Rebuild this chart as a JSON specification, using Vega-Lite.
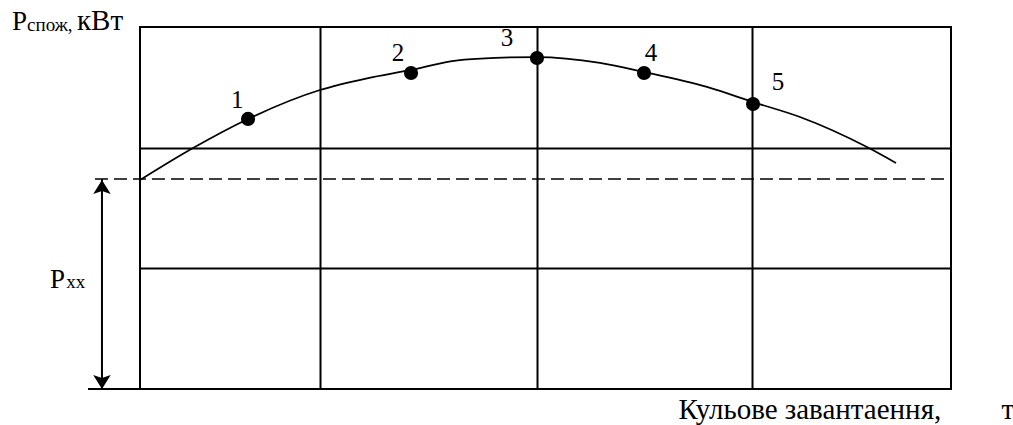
{
  "$schema": "https://vega.github.io/schema/vega-lite/v6.json",
  "width": 811,
  "height": 362,
  "autosize": "none",
  "padding": {"left": 140, "top": 27, "right": 62, "bottom": 36},
  "background": "white",
  "config": {"view": {"stroke": "black", "strokeWidth": 2}, "text": {"font": "Liberation Serif, Times New Roman, serif"}},
  "datasets": {
    "curve": [
      {"x": 0, "y": 1.732},
      {"x": 6.54, "y": 1.997},
      {"x": 13.32, "y": 2.238},
      {"x": 22.19, "y": 2.478},
      {"x": 28.0, "y": 2.575},
      {"x": 33.42, "y": 2.644},
      {"x": 38.5, "y": 2.718},
      {"x": 42.0, "y": 2.738},
      {"x": 48.95, "y": 2.751},
      {"x": 56.72, "y": 2.702},
      {"x": 62.15, "y": 2.627},
      {"x": 69.91, "y": 2.503},
      {"x": 75.59, "y": 2.378},
      {"x": 81.38, "y": 2.254},
      {"x": 89.64, "y": 2.005},
      {"x": 93.22, "y": 1.873}
    ],
    "dots": [
      {"x": 13.32, "y": 2.238, "n": "1"},
      {"x": 33.42, "y": 2.619, "n": "2"},
      {"x": 48.95, "y": 2.743, "n": "3"},
      {"x": 62.15, "y": 2.619, "n": "4"},
      {"x": 75.59, "y": 2.362, "n": "5"}
    ],
    "numlabels": [
      {"x": 12.0, "y": 2.395, "text": "1"},
      {"x": 31.81, "y": 2.784, "text": "2"},
      {"x": 45.25, "y": 2.909, "text": "3"},
      {"x": 63.0, "y": 2.784, "text": "4"},
      {"x": 78.67, "y": 2.544, "text": "5"}
    ],
    "dashed": [{"x": -5.55, "x2": 100, "y": 1.74}],
    "arrowline": [{"x": -4.69, "y": 0, "y2": 1.74}],
    "baseext": [{"x": -6.41, "x2": 0, "y": 0}],
    "arrowup": [{"x": -4.69, "y": 1.659}],
    "arrowdown": [{"x": -4.69, "y": 0.0725}],
    "bigtext": [
      {"x": -15.78, "y": 2.975, "text": "P"},
      {"x": -11.1, "y": 0.837, "text": "P"}
    ],
    "unit": [
      {"x": -7.77, "y": 2.975, "text": "кВт"}
    ],
    "subtext": [
      {"x": -13.93, "y": 2.967, "text": "спож,"},
      {"x": -9.1, "y": 0.837, "text": "xx"}
    ],
    "xtitle": [
      {"x": 82.6, "y": -0.174, "text": "Кульове завантаення,"},
      {"x": 107.0, "y": -0.174, "text": "т"}
    ]
  },
  "encoding": {
    "x": {
      "field": "x", "type": "quantitative",
      "scale": {"domain": [0, 100], "nice": false, "zero": false},
      "axis": {"values": [22.19, 48.95, 75.46], "grid": true, "gridColor": "black", "gridWidth": 2, "gridOpacity": 1, "labels": false, "ticks": false, "domain": false, "title": null}
    },
    "y": {
      "field": "y", "type": "quantitative",
      "scale": {"domain": [0, 3], "nice": false, "zero": false},
      "axis": {"values": [1, 2], "grid": true, "gridColor": "black", "gridWidth": 2, "gridOpacity": 1, "labels": false, "ticks": false, "domain": false, "title": null}
    }
  },
  "layer": [
    {
      "data": {"name": "dashed"},
      "mark": {"type": "rule", "color": "black", "strokeWidth": 1.5, "strokeDash": [13, 6]},
      "encoding": {"x2": {"field": "x2"}}
    },
    {
      "data": {"name": "arrowline"},
      "mark": {"type": "rule", "color": "black", "strokeWidth": 2},
      "encoding": {"y2": {"field": "y2"}}
    },
    {
      "data": {"name": "baseext"},
      "mark": {"type": "rule", "color": "black", "strokeWidth": 2},
      "encoding": {"x2": {"field": "x2"}}
    },
    {
      "data": {"name": "arrowup"},
      "mark": {"type": "point", "shape": "M0,-1L1,0.6L0,0.25L-1,0.6Z", "filled": true, "color": "black", "opacity": 1, "size": 306, "strokeWidth": 0}
    },
    {
      "data": {"name": "arrowdown"},
      "mark": {"type": "point", "shape": "M0,1L1,-0.6L0,-0.25L-1,-0.6Z", "filled": true, "color": "black", "opacity": 1, "size": 306, "strokeWidth": 0}
    },
    {
      "data": {"name": "curve"},
      "mark": {"type": "line", "color": "black", "strokeWidth": 1.8, "interpolate": "monotone"}
    },
    {
      "data": {"name": "dots"},
      "mark": {"type": "circle", "color": "black", "opacity": 1, "size": 200}
    },
    {
      "data": {"name": "numlabels"},
      "mark": {"type": "text", "fontSize": 25, "align": "center", "baseline": "middle", "color": "black"},
      "encoding": {"text": {"field": "text"}}
    },
    {
      "data": {"name": "bigtext"},
      "mark": {"type": "text", "fontSize": 27, "align": "left", "baseline": "alphabetic", "color": "black"},
      "encoding": {"text": {"field": "text"}}
    },
    {
      "data": {"name": "unit"},
      "mark": {"type": "text", "fontSize": 29, "align": "left", "baseline": "alphabetic", "color": "black"},
      "encoding": {"text": {"field": "text"}}
    },
    {
      "data": {"name": "subtext"},
      "mark": {"type": "text", "fontSize": 19, "align": "left", "baseline": "alphabetic", "color": "black"},
      "encoding": {"text": {"field": "text"}}
    },
    {
      "data": {"name": "xtitle"},
      "mark": {"type": "text", "fontSize": 29, "align": "center", "baseline": "middle", "color": "black"},
      "encoding": {"text": {"field": "text"}}
    }
  ]
}
